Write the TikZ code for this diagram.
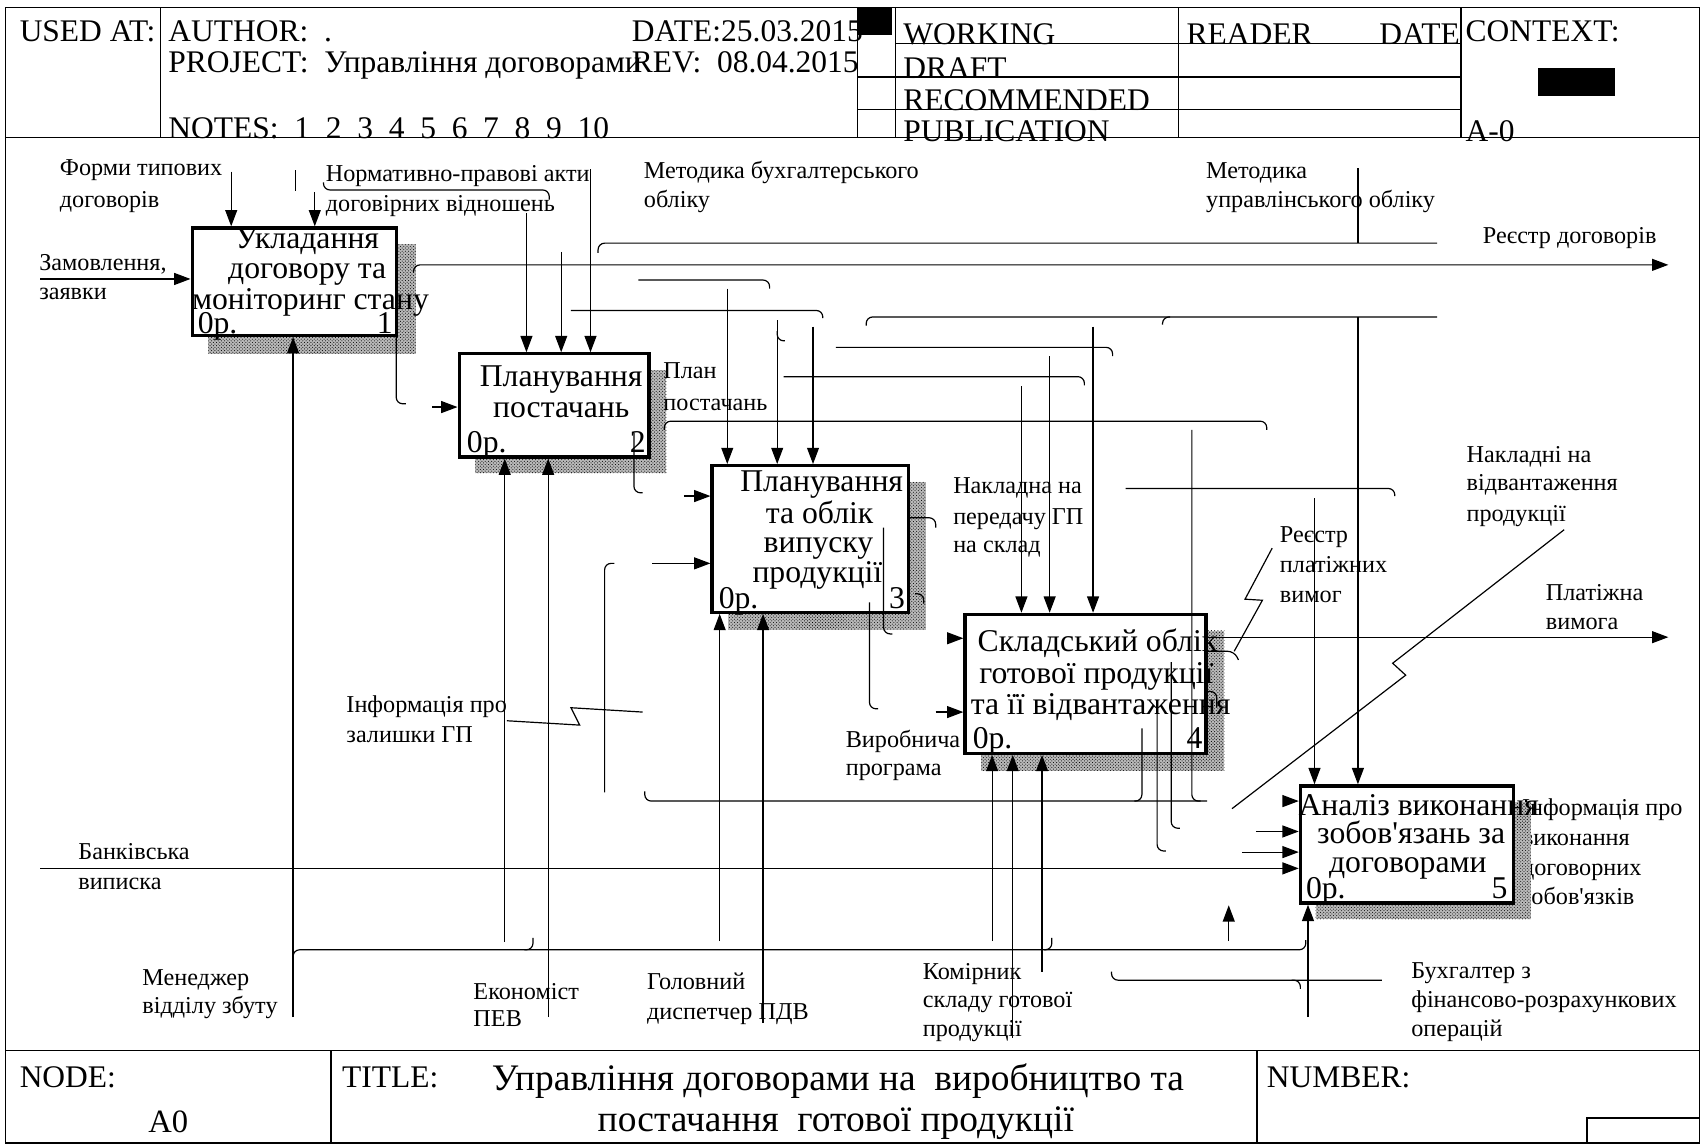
\documentclass[tikz,border=0pt]{standalone}
\usepackage{fontspec}
\setmainfont{Liberation Serif}[Ligatures=TeXOff]
\usetikzlibrary{arrows.meta,patterns}
\begin{document}
\begin{tikzpicture}[x=1pt,y=-1pt,
 ln/.style={line width=1.1pt},
 cv/.style={line width=1.1pt,rounded corners=6pt},
 arr/.style={line width=1.1pt,-{Triangle[length=15pt,width=11pt]}},
 cvarr/.style={cv,-{Triangle[length=15pt,width=11pt]}},
 bx/.style={draw,line width=3pt,fill=white,inner sep=0pt},
 shd/.style={fill=gray!55,postaction={pattern=crosshatch dots}},
 lab/.style={font=\fontsize{22.3}{26}\selectfont,inner sep=0pt,anchor=base west},
 bt/.style={font=\fontsize{29.2}{30}\selectfont,inner sep=0pt,anchor=base},
 btl/.style={bt,anchor=base west},
 btr/.style={bt,anchor=base east},
 hd/.style={font=\fontsize{29}{31}\selectfont,inner sep=0pt,anchor=base west},
 ttl/.style={font=\fontsize{34.5}{36}\selectfont,inner sep=0pt,anchor=base},
]
\path[fill=white] (0,0) rectangle (1568,1055);
\useasboundingbox (0,0) rectangle (1568,1055);

% label partly hidden by shadow of box 5
\node[lab] (lo1) at (1402,751) {Інформація про};
\node[lab] (lo2) at (1402,779) {виконання};
\node[lab] (lo3) at (1402,807) {договорних};
\node[lab] (lo4) at (1402,833) {зобов'язків};

% shadows
\path[shd] (192,225) rectangle (383,326);
\path[shd] (438,341) rectangle (614,436);
\path[shd] (671,444) rectangle (853,580);
\path[shd] (904,581) rectangle (1128,710);
\path[shd] (1212,739) rectangle (1410,847);

% boxes
\node[bx,minimum width=188pt,minimum height=99pt] (b1) at (271,259.5) {};
\node[bx,minimum width=175pt,minimum height=95pt] (b2) at (510.5,373.5) {};
\node[bx,minimum width=181pt,minimum height=135pt] (b3) at (746.5,496.5) {};
\node[bx,minimum width=222pt,minimum height=128pt] (b4) at (1000,630) {};
\node[bx,minimum width=196pt,minimum height=108pt] (b5) at (1296,778) {};

% box texts
\node[bt] (t1a) at (283,229) {Укладання};
\node[bt] (t1b) at (283,257) {договору та};
\node[bt] (t1c) at (286,285) {моніторинг стану};
\node[btl] (t1d) at (182,307) {0р.};
\node[btr] (t1e) at (362,307) {1};

\node[bt] (t2a) at (517,356) {Планування};
\node[bt] (t2b) at (517,385) {постачань};
\node[btl] (t2d) at (430,417) {0р.};
\node[btr] (t2e) at (595,417) {2};

\node[bt] (t3a) at (757,453) {Планування};
\node[bt] (t3b) at (755,482) {та облік};
\node[bt] (t3c) at (754,509) {випуску};
\node[bt] (t3d) at (753,537) {продукції};
\node[btl] (t3e) at (662,561) {0р.};
\node[btr] (t3f) at (834,561) {3};

\node[bt] (t4a) at (1011,600) {Складський облік};
\node[bt] (t4b) at (1010,630) {готової продукції};
\node[bt] (t4c) at (1014,658) {та її відвантаження};
\node[btl] (t4d) at (896,690) {0р.};
\node[btr] (t4e) at (1108,690) {4};

\node[bt] (t5a) at (1307,751) {Аналіз виконання};
\node[bt] (t5b) at (1300,777) {зобов'язань за};
\node[bt] (t5c) at (1297,804) {договорами};
\node[btl] (t5d) at (1203,828) {0р.};
\node[btr] (t5e) at (1389,828) {5};

% labels
\node[lab] (lz1) at (36,249) {Замовлення,};
\node[lab] (lz2) at (36,276) {заявки};
\node[lab] (lf1) at (55,162) {Форми типових};
\node[lab] (lf2) at (55,191) {договорів};
\node[lab] (ln1) at (300,167) {Нормативно-правові акти};
\node[lab] (ln2) at (300,195) {договірних відношень};
\node[lab] (lm1) at (593,164) {Методика бухгалтерського};
\node[lab] (lm2) at (593,191) {обліку};
\node[lab] (lu1) at (1111,164) {Методика};
\node[lab] (lu2) at (1111,191) {управлінського обліку};
\node[lab] (lr) at (1366,224) {Реєстр договорів};
\node[lab] (lp1) at (611,349) {План};
\node[lab] (lp2) at (611,378) {постачань};
\node[lab] (lnk1) at (878,455) {Накладна на};
\node[lab] (lnk2) at (878,483) {передачу ГП};
\node[lab] (lnk3) at (878,509) {на склад};
\node[lab] (lrp1) at (1179,500) {Реєстр};
\node[lab] (lrp2) at (1179,527) {платіжних};
\node[lab] (lrp3) at (1179,555) {вимог};
\node[lab] (lnv1) at (1351,426) {Накладні на};
\node[lab] (lnv2) at (1351,452) {відвантаження};
\node[lab] (lnv3) at (1351,480) {продукції};
\node[lab] (lpv1) at (1424,553) {Платіжна};
\node[lab] (lpv2) at (1424,580) {вимога};
\node[lab] (li1) at (319,656) {Інформація про};
\node[lab] (li2) at (319,684) {залишки ГП};
\node[lab] (lv1) at (779,689) {Виробнича};
\node[lab] (lv2) at (779,714) {програма};
\node[lab] (lb1) at (72,792) {Банківська};
\node[lab] (lb2) at (72,819) {виписка};
\node[lab] (lmn1) at (131,908) {Менеджер};
\node[lab] (lmn2) at (131,934) {відділу збуту};
\node[lab] (le1) at (436,921) {Економіст};
\node[lab] (le2) at (436,946) {ПЕВ};
\node[lab] (lg1) at (596,912) {Головний};
\node[lab] (lg2) at (596,939) {диспетчер ПДВ};
\node[lab] (lk1) at (850,902) {Комірник};
\node[lab] (lk2) at (850,928) {складу готової};
\node[lab] (lk3) at (850,955) {продукції};
\node[lab] (lbu1) at (1300,901) {Бухгалтер з};
\node[lab] (lbu2) at (1300,928) {фінансово-розрахункових};
\node[lab] (lbu3) at (1300,955) {операцій};

% header texts
\node[hd] (h1) at (18,38) {USED AT:};
\node[hd] (h2) at (155,38) {AUTHOR:\ \ .};
\node[hd] (h3) at (155,67) {PROJECT:\ \ Управління договорами};
\node[hd] (h4) at (155,128) {NOTES:\ \ 1\ \ 2\ \ 3\ \ 4\ \ 5\ \ 6\ \ 7\ \ 8\ \ 9\ \ 10};
\node[hd] (h5) at (582,38) {DATE:25.03.2015};
\node[hd] (h6) at (582,67) {REV:\ \ 08.04.2015};
\node[hd] (h7) at (832,41) {WORKING};
\node[hd] (h8) at (832,72) {DRAFT};
\node[hd] (h9) at (832,102) {RECOMMENDED};
\node[hd] (h10) at (832,130) {PUBLICATION};
\node[hd] (h11) at (1093,41) {READER};
\node[hd,anchor=base east] (h12) at (1345,41) {DATE};
\node[hd] (h13) at (1350,38) {CONTEXT:};
\node[hd] (h14) at (1350,130) {A-0};
% footer texts
\node[hd] (f1) at (18,1002) {NODE:};
\node[font=\fontsize{30}{32}\selectfont,inner sep=0pt,anchor=base] (f2) at (155,1043) {A0};
\node[hd] (f3) at (315,1002) {TITLE:};
\node[ttl] (f4) at (772,1005) {Управління договорами на\ \ виробництво та};
\node[ttl] (f5) at (770,1042) {постачання\ \ готової продукції};
\node[hd] (f6) at (1167,1002) {NUMBER:};

% frame, header, footer lines
\draw[ln] (5,7) rectangle (1566,1053);
\draw[ln] (5,127) -- (1566,127);
\draw[ln] (148,7) -- (148,127);
\draw[ln] (790,7) -- (790,127);
\draw[ln] (825,7) -- (825,127);
\draw[ln] (1086,7) -- (1086,127);
\draw[ln] (1346,7) -- (1346,127);
\draw[ln] (825,40) -- (1346,40);
\draw[ln] (790,71) -- (1346,71);
\draw[ln] (790,101) -- (1346,101);
\fill (790,7) rectangle (822,32);
\fill (1417,63) rectangle (1488,88);
\draw[ln] (5,968) -- (1566,968);
\draw[ln] (305,968) -- (305,1053);
\draw[ln] (1158,968) -- (1158,1053);
\draw[ln] (1462,1053) -- (1462,1030) -- (1566,1030);

% connectors
\draw[arr] (37,257) -- (b1.west |- 0,257);
\draw[arr] (213,158) -- (b1.north -| 213,0);
\draw[ln] (272,157) -- (272,176);
\draw[arr] (290,177) -- (b1.north -| 290,0);
\draw[cv] (298,168) -- (298,175) -- (506,175) -- (506,184);
\draw[arr] (485,196) -- (b2.north -| 485,0);
\draw[arr] (517,232) -- (b2.north -| 517,0);
\draw[arr] (544,156) -- (b2.north -| 544,0);
\draw[cv] (551,233) -- (551,224) -- (1324,224);
\draw[ln] (1251,155) -- (1251,224);
\draw[cvarr] (381,251) -- (381,244) -- (1537,244);
\draw[cv] (588,258) -- (709,258) -- (709,266);
\draw[arr] (670,266) -- (b3.north -| 670,0);
\draw[cv] (526,286) -- (758,286) -- (758,293);
\draw[arr] (716,295) -- (b3.north -| 716,0);
\draw[cv] (716,305) -- (716,314) -- (723,314);
\draw[arr] (749,301) -- (b3.north -| 749,0);
\draw[cv] (798,300) -- (798,292) -- (1324,292);
\draw[cv] (1078,292) -- (1071,292) -- (1071,299);
\draw[arr] (1251,292) -- (b5.north -| 1251,0);
\draw[cv] (770,320) -- (1025,320) -- (1025,328);
\draw[arr] (1007,301) -- (b4.north -| 1007,0);
\draw[cv] (722,347) -- (999,347) -- (999,355);
\draw[arr] (967,328) -- (b4.north -| 967,0);
\draw[arr] (941,356) -- (b4.north -| 941,0);
\draw[cv] (612,396) -- (612,388) -- (1167,388) -- (1167,396);
\draw[cv] (1098,396) -- (1098,738) -- (1106,738);
\draw[cv] (594,729) -- (594,738) -- (1112,738);
\draw[cv] (1052,671) -- (1052,738) -- (1045,738);
\draw[cv] (1066,656) -- (1066,784) -- (1074,784);
\draw[cv] (1079,610) -- (1079,763) -- (1087,763);
\draw[arr] (1184,738) -- (b5.west |- 0,738);
\draw[arr] (1157,766) -- (b5.west |- 0,766);
\draw[arr] (1144,785) -- (b5.west |- 0,785);
\draw[arr] (37,800) -- (b5.west |- 0,800);
\draw[ln] (1441,488) -- (1283,611) -- (1295,622) -- (1135,745);
\draw[cv] (1037,450) -- (1285,450) -- (1285,457);
\draw[arr] (1211,459) -- (b5.north -| 1211,0);
\draw[ln] (1172,505) -- (1147,552) -- (1163,553) -- (1137,600);
\draw[cv] (b4.east |- 0,600) -- (1137,600) -- (1141,608);
\draw[arr] (b4.east |- 0,587) -- (1537,587);
\draw[cv] (b3.east |- 0,477) -- (862,477) -- (862,486);
\draw[cv] (814,486) -- (814,584) -- (822,584);
\draw[cv] (801,555) -- (801,653) -- (809,653);
\draw[arr] (872,588) -- (b4.west |- 0,588);
\draw[arr] (862,656) -- (b4.west |- 0,656);
\draw[arr] (630,457) -- (b3.west |- 0,457);
\draw[arr] (601,519) -- (b3.west |- 0,519);
\draw[cv] (584,399) -- (584,454) -- (592,454);
\draw[cv] (557,730) -- (557,519) -- (566,519);
\draw[arr] (398,375) -- (b2.west |- 0,375);
\draw[cv] (b1.south -| 365,0) -- (365,372) -- (374,372);
\draw[ln] (467,664) -- (534,668) -- (526,652) -- (592,656);
\draw[arr] (270,937) -- (b1.south -| 270,0);
\draw[cv] (270,885) -- (270,875) -- (1203,875) -- (1203,866);
\draw[cv] (491,864) -- (491,875) -- (483,875);
\draw[cv] (969,864) -- (969,875) -- (962,875);
\draw[arr] (465,868) -- (b2.south -| 465,0);
\draw[arr] (505,937) -- (b2.south -| 505,0);
\draw[arr] (663,867) -- (b3.south -| 663,0);
\draw[arr] (703,942) -- (b3.south -| 703,0);
\draw[arr] (914,867) -- (b4.south -| 914,0);
\draw[arr] (933,956) -- (b4.south -| 933,0);
\draw[arr] (960,895) -- (b4.south -| 960,0);
\draw[arr] (1205,937) -- (b5.south -| 1205,0);
\draw[arr] (1132,867) -- (1132,834);
\draw[cv] (1024,895) -- (1024,903) -- (1273,903);
\draw[cv] (1190,903) -- (1198,903) -- (1198,911);
\draw[cv] (843,547) -- (851,547) -- (851,556);
\draw[cv] (1112,637) -- (1121,637) -- (1121,652);
\end{tikzpicture}
\end{document}
